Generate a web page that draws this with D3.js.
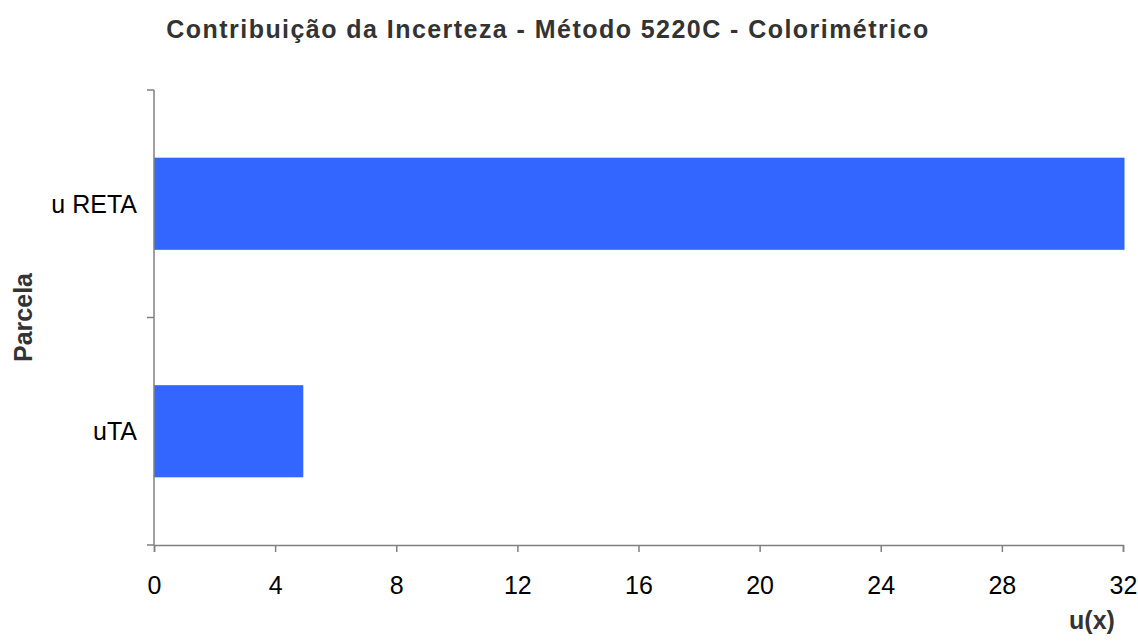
<!DOCTYPE html>
<html>
<head>
<meta charset="utf-8">
<script src="https://cdn.jsdelivr.net/npm/d3@7"></script>
<style>
  html, body { margin: 0; padding: 0; background: #fff; }
  svg { display: block; font-family: "Liberation Sans", Arial, sans-serif; }
</style>
</head>
<body>
<svg id="chart" width="1138" height="644"></svg>
<script>
// Uncertainty contributions per component
const categories = ["u RETA", "uTA"];
const values = [32.05, 4.93];
const xTicks = [0, 4, 8, 12, 16, 20, 24, 28, 32];

const titleText = "Contribuição da Incerteza - Método 5220C - Colorimétrico";
const xTitle = "u(x)";
const yTitle = "Parcela";

const svg = d3.select("#chart");
const margin = { left: 154, right: 15, top: 90, bottom: 99 };
const W = 1138, H = 644;
const FONT = "'Liberation Sans', Arial, sans-serif";

const x = d3.scaleLinear().domain([0, 32]).range([margin.left, 1123]);
const y = d3.scaleBand().domain(categories).range([margin.top, H - margin.bottom]).padding(0);
const barH = y.bandwidth() * 0.405;

// bars
svg.append("g").selectAll("rect")
  .data(categories)
  .join("rect")
  .attr("x", x(0))
  .attr("y", d => y(d) + (y.bandwidth() - barH) / 2)
  .attr("width", (d, i) => x(values[i]) - x(0))
  .attr("height", barH)
  .attr("fill", "#3366FF");

// x axis
const xAxis = svg.append("g")
  .attr("transform", `translate(0,${H - margin.bottom})`)
  .call(d3.axisBottom(x).tickValues(xTicks).tickSize(7).tickPadding(24).tickFormat(d3.format("d")));
xAxis.select(".domain").attr("stroke", "#808080").attr("stroke-width", 1.5);
xAxis.selectAll(".tick line").attr("stroke", "#808080").attr("stroke-width", 1.5);
xAxis.selectAll(".tick text").attr("font-size", 25).attr("fill", "#000")
  .attr("font-family", FONT);

// y axis: tick marks at category boundaries, labels at band centers
const yg = svg.append("g");
yg.append("line")
  .attr("x1", x(0)).attr("x2", x(0))
  .attr("y1", margin.top).attr("y2", H - margin.bottom)
  .attr("stroke", "#808080").attr("stroke-width", 1.5);
const boundaries = [margin.top, ...categories.map(c => y(c) + y.bandwidth())];
yg.selectAll("line.tk")
  .data(boundaries)
  .join("line")
  .attr("class", "tk")
  .attr("x1", x(0) - 7).attr("x2", x(0))
  .attr("y1", d => d).attr("y2", d => d)
  .attr("stroke", "#808080").attr("stroke-width", 1.5);
yg.selectAll("text")
  .data(categories)
  .join("text")
  .attr("x", x(0) - 17)
  .attr("y", d => y(d) + y.bandwidth() / 2)
  .attr("dy", "0.35em")
  .attr("text-anchor", "end")
  .attr("font-size", 25)
  .attr("fill", "#000")
  .text(d => d);

// titles
svg.append("text")
  .attr("x", 548).attr("y", 38)
  .attr("text-anchor", "middle")
  .attr("font-size", 25).attr("font-weight", "bold").attr("fill", "#333")
  .attr("letter-spacing", 1.45)
  .text(titleText);

svg.append("text")
  .attr("x", 1092).attr("y", 629)
  .attr("text-anchor", "middle")
  .attr("font-size", 25).attr("font-weight", "bold").attr("fill", "#333")
  .text(xTitle);

svg.append("text")
  .attr("transform", `translate(32,${(margin.top + H - margin.bottom) / 2}) rotate(-90)`)
  .attr("text-anchor", "middle")
  .attr("font-size", 25).attr("font-weight", "bold").attr("fill", "#333")
  .text(yTitle);
</script>
</body>
</html>
